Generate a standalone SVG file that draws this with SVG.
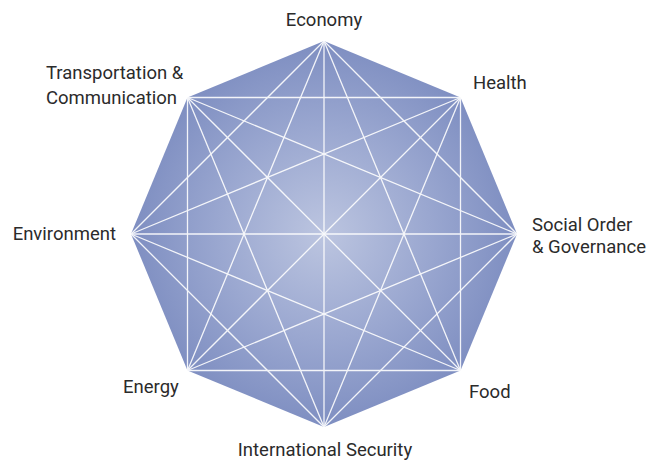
<svg xmlns="http://www.w3.org/2000/svg" width="657" height="462" viewBox="0 0 657 462">
<defs>
<radialGradient id="g" cx="324" cy="234" r="193" gradientUnits="userSpaceOnUse">
<stop offset="0" stop-color="#bcc5e0"/>
<stop offset="0.55" stop-color="#9aa7d0"/>
<stop offset="1" stop-color="#7e8ec1"/>
</radialGradient>
<style>
.lbl{font-family:Roboto,"Liberation Sans",sans-serif;font-size:18.5px;fill:#2b2b2b}
.ln{stroke:#ffffff;stroke-width:1.3;fill:none;opacity:0.9}
</style>
</defs>
<rect width="657" height="462" fill="#ffffff"/>
<polygon points="324,41 460.5,97.5 517,234 460.5,370.5 324,427 187.5,370.5 131,234 187.5,97.5" fill="url(#g)"/>
<g id="connectors" class="ln">
<line x1="324" y1="41" x2="517" y2="234"/>
<line x1="324" y1="41" x2="460.5" y2="370.5"/>
<line x1="324" y1="41" x2="324" y2="427"/>
<line x1="324" y1="41" x2="187.5" y2="370.5"/>
<line x1="324" y1="41" x2="131" y2="234"/>
<line x1="460.5" y1="97.5" x2="460.5" y2="370.5"/>
<line x1="460.5" y1="97.5" x2="324" y2="427"/>
<line x1="460.5" y1="97.5" x2="187.5" y2="370.5"/>
<line x1="460.5" y1="97.5" x2="131" y2="234"/>
<line x1="460.5" y1="97.5" x2="187.5" y2="97.5"/>
<line x1="517" y1="234" x2="324" y2="427"/>
<line x1="517" y1="234" x2="187.5" y2="370.5"/>
<line x1="517" y1="234" x2="131" y2="234"/>
<line x1="517" y1="234" x2="187.5" y2="97.5"/>
<line x1="460.5" y1="370.5" x2="187.5" y2="370.5"/>
<line x1="460.5" y1="370.5" x2="131" y2="234"/>
<line x1="460.5" y1="370.5" x2="187.5" y2="97.5"/>
<line x1="324" y1="427" x2="131" y2="234"/>
<line x1="324" y1="427" x2="187.5" y2="97.5"/>
<line x1="187.5" y1="370.5" x2="187.5" y2="97.5"/>
</g>
<g id="economy"><text class="lbl" x="324" y="26" text-anchor="middle">Economy</text></g>
<g id="health"><text class="lbl" x="473" y="89">Health</text></g>
<g id="social-order"><text class="lbl" x="532" y="231">Social Order</text><text class="lbl" x="532" y="253">&amp; Governance</text></g>
<g id="food"><text class="lbl" x="469" y="398">Food</text></g>
<g id="international-security"><text class="lbl" x="325" y="456" text-anchor="middle">International Security</text></g>
<g id="energy"><text class="lbl" x="123" y="393">Energy</text></g>
<g id="environment"><text class="lbl" x="116" y="240" text-anchor="end">Environment</text></g>
<g id="transportation"><text class="lbl" x="46" y="79">Transportation &amp;</text><text class="lbl" x="46" y="104">Communication</text></g>
</svg>
